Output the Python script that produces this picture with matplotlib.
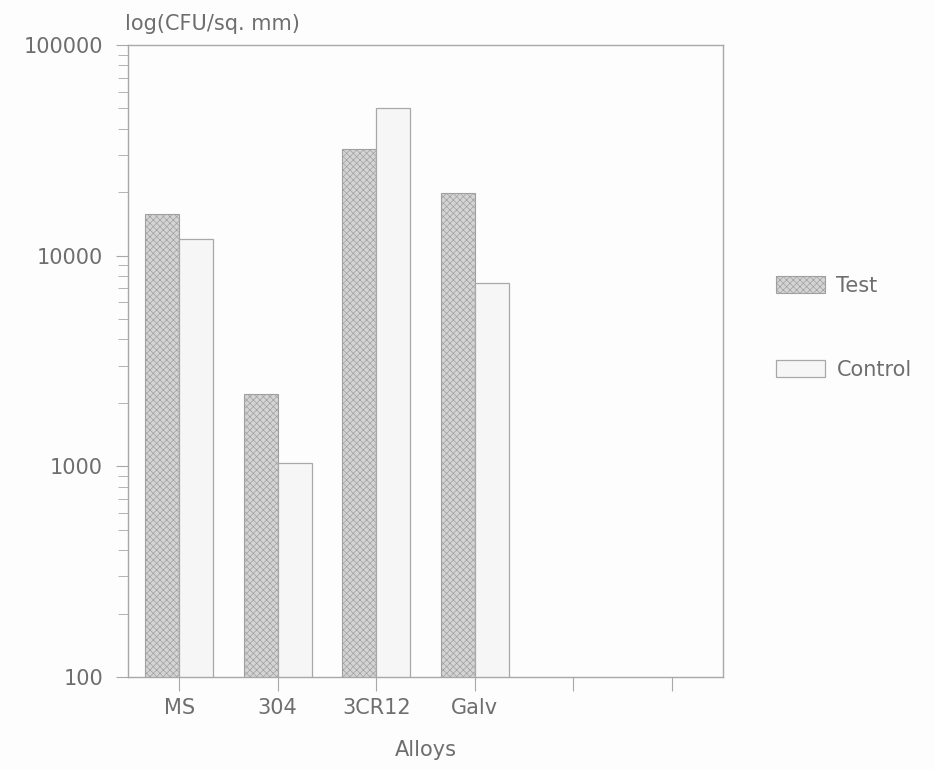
import matplotlib
matplotlib.use("Agg")
import matplotlib.pyplot as plt
from matplotlib.ticker import FixedLocator, FixedFormatter, LogLocator, NullFormatter

alloys = ["MS", "304", "3CR12", "Galv", "", ""]
test = [15800, 2200, 32000, 19800]
control = [12000, 1040, 50000, 7400]
yticks = [100, 1000, 10000, 100000]
ytick_labels = ["100", "1000", "10000", "100000"]

txt = "#6e6e6e"
line = "#a8a8a8"
fs = 15
plt.rcParams["font.family"] = "DejaVu Sans"
plt.rcParams["hatch.color"] = "#b2b2b2"
plt.rcParams["hatch.linewidth"] = 0.5

fig = plt.figure(figsize=(9.35, 7.69), dpi=100)
fig.patch.set_facecolor("#fdfdfd")
# axes box: x 128..723 px, y 45..677 px
ax = fig.add_axes([128 / 935, 1 - 677 / 769, 595 / 935, 632 / 769])
ax.set_facecolor("#fdfdfd")

w = 0.345
xs = list(range(len(test)))
b1 = ax.bar(xs, test, width=-w, align="edge", color="#d4d4d4",
            edgecolor="#a0a0a0", linewidth=0.8, hatch="xxxxx", label="Test")
b2 = ax.bar(xs, control, width=w, align="edge", color="#f6f6f6",
            edgecolor="#a8a8a8", linewidth=0.9, label="Control")

ax.set_yscale("log")
ax.set_ylim(100, 100000)
ax.set_xlim(-0.52, 5.52)
ax.yaxis.set_major_locator(FixedLocator(yticks))
ax.yaxis.set_major_formatter(FixedFormatter(ytick_labels))
ax.yaxis.set_minor_locator(LogLocator(base=10, subs=range(2, 10)))
ax.yaxis.set_minor_formatter(NullFormatter())
ax.set_xticks(range(len(alloys)))
ax.set_xticklabels(alloys)

for s in ax.spines.values():
    s.set_color(line)
    s.set_linewidth(1.0)
ax.tick_params(axis="both", which="both", colors=line, labelcolor=txt, labelsize=fs)
ax.tick_params(axis="y", which="major", length=9, direction="out", pad=9)
ax.tick_params(axis="y", which="minor", length=7, direction="out")
ax.tick_params(axis="x", length=10, direction="out", pad=5)

ax.text(-0.005, 1 + 21 / 632, "log(CFU/sq. mm)", transform=ax.transAxes, color=txt,
        fontsize=fs, ha="left", va="center")
ax.text(0.5, -73 / 632, "Alloys", transform=ax.transAxes, color=txt,
        fontsize=fs, ha="center", va="center")

fig.legend(handles=[b1, b2], loc="upper left", bbox_to_anchor=(776 / 935, 1 - 276 / 769),
           bbox_transform=fig.transFigure, frameon=False, fontsize=fs,
           handlelength=2.35, handleheight=0.85, labelspacing=3.05,
           handletextpad=0.55, borderpad=0, borderaxespad=0, labelcolor=txt)

fig.savefig("out.png", dpi=100, facecolor=fig.get_facecolor())
